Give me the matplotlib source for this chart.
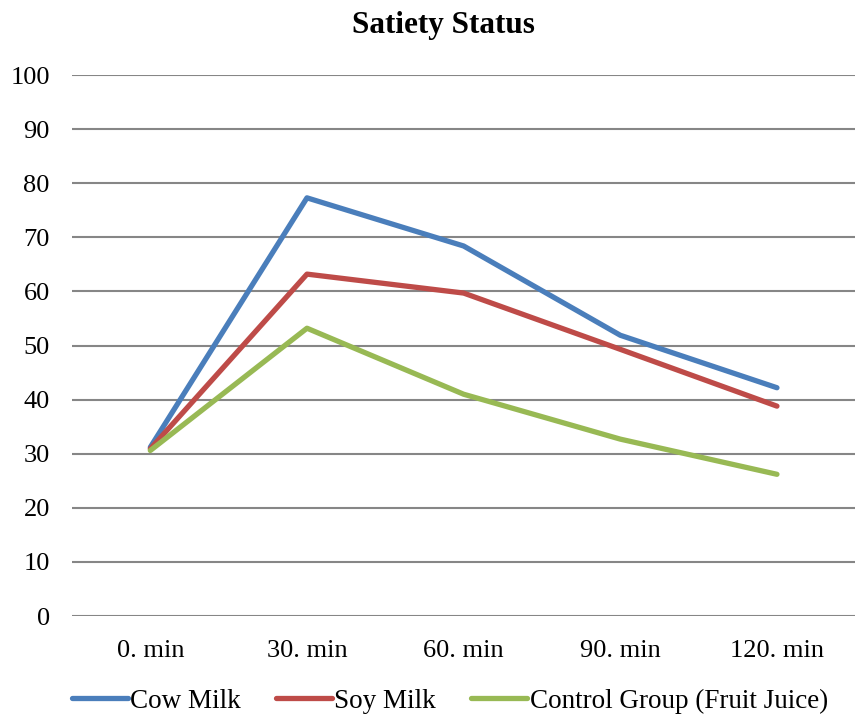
import numpy as np
import matplotlib.pyplot as plt

plt.rcParams['font.family'] = ['Liberation Serif', 'DejaVu Serif']

times = ["0. min", "30. min", "60. min", "90. min", "120. min"]
cow_milk = [31.2, 77.3, 68.4, 51.9, 42.2]
soy_milk = [30.9, 63.2, 59.7, 49.3, 38.8]
control = [30.6, 53.2, 41.0, 32.7, 26.2]

fig = plt.figure(figsize=(8.57, 7.18), dpi=100)
ax = fig.add_axes([0.084, 0.142, 0.914, 0.7535])

x = np.arange(len(times))
style = dict(lw=3.8, solid_capstyle='round', solid_joinstyle='round', zorder=3)
ax.plot(x, cow_milk, color='#4A7EBB', label='Cow Milk', **style)
ax.plot(x, soy_milk, color='#BE4B48', label='Soy Milk', **style)
ax.plot(x, control, color='#98B954', label='Control Group (Fruit Juice)', **style)

ax.set_xlim(-0.5, 4.5)
ax.set_ylim(0, 100)
ax.set_yticks(range(0, 101, 10))
ax.set_xticks(x)
ax.set_xticklabels(times)
ax.grid(axis='y', color='#868686', lw=1.5)
ax.set_axisbelow(True)
for s in ax.spines.values():
    s.set_visible(False)
ax.tick_params(length=0, labelsize=19, colors='black')
ax.tick_params(axis='y', pad=16)
ax.tick_params(axis='x', pad=17)

fig.text(0.517, 1 - 25 / 718, 'Satiety Status', fontsize=22.5,
         fontweight='bold', ha='center', va='center')

leg = ax.legend(loc='center left', bbox_to_anchor=(0.0, -0.157), ncol=3,
                frameon=False, fontsize=19.5, handlelength=2.05,
                handletextpad=0.1, columnspacing=1.3,
                borderpad=0, borderaxespad=0)

fig.savefig('out.png', dpi=100)
